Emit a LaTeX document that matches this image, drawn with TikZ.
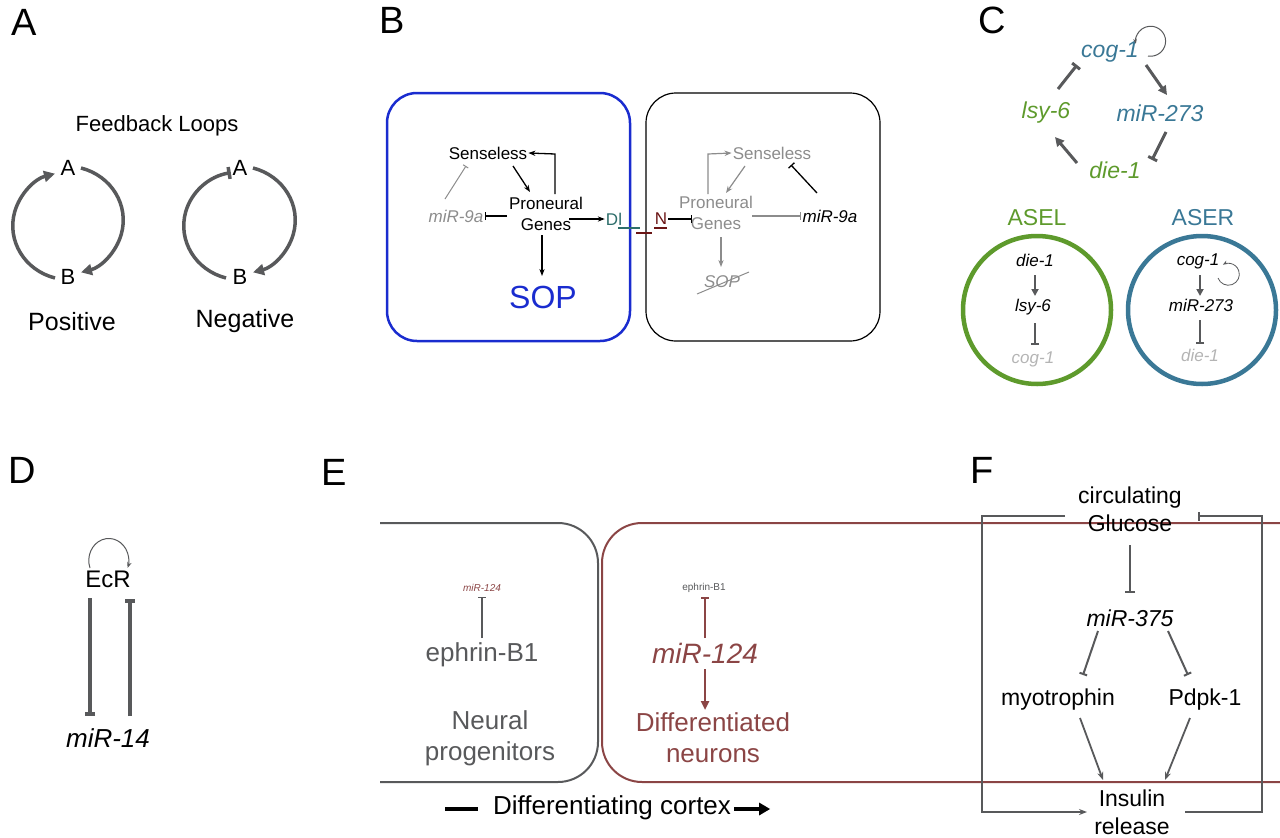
\documentclass[tikz,border=0pt]{standalone}
\usepackage{fontspec}
\setmainfont{Liberation Sans}
\usetikzlibrary{arrows.meta}
\definecolor{dg}{HTML}{58595B}
\definecolor{bblue}{HTML}{1A2CCF}
\definecolor{bgray}{HTML}{8C8C8C}
\definecolor{teal2}{HTML}{2E6E6B}
\definecolor{dred}{HTML}{6B1515}
\definecolor{cgreen}{HTML}{5E9A2C}
\definecolor{cblue}{HTML}{3A7896}
\definecolor{lgray}{HTML}{B4B4B4}
\definecolor{ered}{HTML}{8B4545}
\begin{document}
\begin{tikzpicture}[x=1pt,y=-1pt,
  f/.style={font=\fontsize{#1}{\dimexpr #1pt*6/5\relax}\selectfont},
  fi/.style={font=\fontsize{#1}{\dimexpr #1pt*6/5\relax}\selectfont\itshape},
  lab/.style={f=38,anchor=center},
  thick2/.style={line width=3.5pt,dg},
  inner sep=1pt]
\useasboundingbox (0,0) rectangle (1280,838);
% Panel letters
\node[lab] (LA) at (24,22) {A};
\node[lab] (LB) at (392,20) {B};
\node[lab] (LC) at (992,20) {C};
\node[lab] (LD) at (22,470) {D};
\node[lab] (LE) at (334,472) {E};
\node[lab] (LF) at (982,470) {F};
% ---- A
\node[f=22] (fl) at (157,126) {Feedback Loops};
\node[f=22] (pa) at (68,168) {A};
\node[f=22] (pb) at (68,277) {B};
\node[f=22] (na) at (240,168) {A};
\node[f=22] (nb) at (240,277) {B};
\node[f=25] (pos) at (72,322) {Positive};
\node[f=25] (neg) at (245,321) {Negative};
\draw[thick2,-{Triangle[length=11pt,width=11pt]}] (55,278) arc[start angle=105,end angle=255,x radius=57,y radius=54] ;
\draw[thick2,-{Triangle[length=11pt,width=11pt]}] (81,168) arc[start angle=-75,end angle=75,x radius=57,y radius=54];
\draw[thick2,-{Bar[width=12pt]}] (226,278) arc[start angle=105,end angle=260,x radius=57,y radius=54];
\draw[thick2,-{Triangle[length=11pt,width=11pt]}] (253,168) arc[start angle=-75,end angle=75,x radius=57,y radius=54];
% ---- B
\draw[bblue,line width=2.5pt,rounded corners=30pt] (387,93) rectangle (630,341);
\draw[black,line width=1.2pt,rounded corners=30pt] (646,93) rectangle (880,341);
\node[f=17] (sen) at (488,153) {Senseless};
\node[f=17,align=center] (pro) at (546,214) {Proneural\\Genes};
\node[fi=17,bgray] (m9) at (456,216) {miR-9a};
\node[f=32,bblue] (sop) at (543,297) {SOP};
\node[f=17,teal2] (dl) at (614,219) {Dl};
\node[f=17,dred] (nn) at (661,219) {N};
\draw[line width=1.3pt,-{Stealth[length=7pt]}] (555,194) -- (555,154) -- (sen.east);
\draw[line width=1.3pt,-{Stealth[length=7pt]}] (513,166) -- (530,192);
\draw[bgray,line width=1pt,-{Bar[width=6pt]}] (445,199) -- (466,166);
\draw[line width=1.3pt,-{Bar[width=8pt]}] (507,216) -- (m9.east);
\draw[line width=1.3pt,-{Stealth[length=7pt]}] (569,219) -- (dl.west);
\draw[line width=1.3pt,-{Stealth[length=7pt]}] (542,235) -- (542,276);
\draw[teal2,line width=2pt] (618,228) -- (640,228);
\draw[dred,line width=2pt] (636,233) -- (652,233) (654,228) -- (667,228);
\node[f=17,bgray,align=center] (pro2) at (716,213) {Proneural\\Genes};
\node[f=17,bgray] (sen2) at (772,153) {Senseless};
\node[fi=17] (m92) at (830,216) {miR-9a};
\node[fi=17,bgray] (sop2) at (722,282) {SOP};
\draw[line width=1.3pt,-{Bar[width=8pt]}] (nn.east) -- (692,219);
\draw[bgray,line width=1.2pt,-{Stealth[length=7pt]}] (708,194) -- (708,154) -- (sen2.west);
\draw[bgray,line width=1.2pt,-{Stealth[length=7pt]}] (745,166) -- (726,193);
\draw[line width=1.3pt,-{Bar[width=8pt]}] (817,193) -- (791,165);
\draw[bgray,line width=1.2pt,-{Bar[width=8pt]}] (752,216) -- (m92.west);
\draw[bgray,line width=1.2pt,-{Stealth[length=7pt]}] (721,237) -- (721,267);
\draw[bgray,line width=1pt] (697,294) -- (749,272);
% ---- C
\node[fi=23,cblue] (cog) at (1110,52) {cog-1};
\node[fi=23,cblue] (mir) at (1160,113) {miR-273};
\node[fi=23,cgreen] (lsy) at (1046,113) {lsy-6};
\node[fi=23,cgreen] (die) at (1115,170) {die-1};
\draw[dg,line width=1pt,-{Stealth[length=5pt]}] (1148,56) arc[start angle=100,end angle=-190,radius=15];
\draw[dg,line width=3pt,-{Triangle[length=9pt,width=9pt]}] (1146,65) -- (1167,95);
\draw[dg,line width=3pt,-{Bar[width=10pt]}] (1166,132) -- (1152,160);
\draw[dg,line width=3pt,-{Triangle[length=9pt,width=9pt]}] (1077,163) -- (1055,137);
\draw[dg,line width=3pt,-{Bar[width=10pt]}] (1058,89) -- (1077,65);
\node[f=23,cgreen] (asel) at (1037,218) {ASEL};
\node[f=23,cblue] (aser) at (1203,218) {ASER};
\draw[cgreen,line width=4.5pt] (1037,310) circle (74);
\draw[cblue,line width=4.5pt] (1202,310) circle (74);
\node[fi=17] (d1) at (1035,260) {die-1};
\node[fi=17] (l1) at (1033,307) {lsy-6};
\node[fi=17,lgray] (c1) at (1033,359) {cog-1};
\draw[dg,line width=2pt,-{Triangle[length=7pt,width=7pt]}] (1035,275) -- (1035,296);
\draw[dg,line width=2pt,-{Bar[width=8pt]}] (1035,323) -- (1035,345);
\node[fi=17] (c2) at (1198,261) {cog-1};
\node[fi=17] (m2) at (1201,305) {miR-273};
\node[fi=17,lgray] (d2) at (1200,355) {die-1};
\draw[dg,line width=0.8pt,-{Stealth[length=5pt]}] (1218,278) arc[start angle=-200,end angle=-480,radius=11];
\draw[dg,line width=2pt,-{Triangle[length=7pt,width=7pt]}] (1200,275) -- (1200,296);
\draw[dg,line width=2pt,-{Bar[width=8pt]}] (1200,320) -- (1200,344);
% ---- D
\node[f=24] (ecr) at (108,579) {EcR};
\node[fi=26] (m14) at (108,738) {miR-14};
\draw[dg,line width=1pt,-{Stealth[length=6pt]}] (90,568) arc[start angle=-200,end angle=20,x radius=20,y radius=22];
\draw[dg,line width=4pt,-{Bar[width=10pt,length=3pt]}] (90,598) -- (90,716);
\draw[dg,line width=4pt,-{Bar[width=10pt,length=3pt]}] (130,716) -- (130,599);
% ---- E
\draw[dg,line width=2pt] (380,523) -- (558,523) arc[start angle=-90,end angle=0,radius=40] -- (598,742) arc[start angle=0,end angle=90,radius=40] -- (380,782);
\draw[ered,line width=2pt] (1280,523) -- (642,523) arc[start angle=-90,end angle=-180,radius=40] -- (602,742) arc[start angle=180,end angle=90,radius=40] -- (1280,782);
\node[fi=10,ered] (em1) at (482,588) {miR-124};
\node[f=26,dg] (eb1) at (482,655) {ephrin-B1};
\node[f=26,dg,align=center] (np) at (490,738) {Neural\\progenitors};
\draw[dg,line width=1.2pt,-{Bar[width=8pt]}] (482,638) -- (482,597);
\node[f=10,dg] (eb2) at (704,588) {ephrin-B1};
\node[fi=28,ered] (em2) at (705,653) {miR-124};
\node[f=26,ered,align=center] (dn) at (713,738) {Differentiated\\neurons};
\draw[ered,line width=1.5pt,-{Bar[width=8pt]}] (705,638) -- (705,597);
\draw[ered,line width=2.5pt,-{Triangle[length=9pt,width=8pt]}] (705,669) -- (705,710);
\node[f=26] (dc) at (612,808) {Differentiating cortex};
\draw[line width=4pt] (445,809) -- (478,809);
\draw[line width=4pt,-{Triangle[length=11pt,width=12pt]}] (dc.east) ++(2,1) -- +(36,0);
% ---- F
\node[f=23,align=center] (glu) at (1130,509) {circulating\\Glucose};
\node[fi=23] (m375) at (1130,618) {miR-375};
\node[f=23] (myo) at (1058,700) {myotrophin};
\node[f=23] (pdp) at (1205,700) {Pdpk-1};
\node[f=23,align=center] (ins) at (1132,812) {Insulin\\release};
\draw[dg,line width=2.5pt,-{Bar[width=10pt]}] (1130,545) -- (1130,593);
\draw[dg,line width=2pt,-{Bar[width=8pt]}] (1098,631) -- (1083,675);
\draw[dg,line width=2pt,-{Bar[width=8pt]}] (1168,631) -- (1188,675);
\draw[dg,line width=1.8pt,-{Stealth[length=8pt]}] (1080,718) -- (1103,780);
\draw[dg,line width=1.8pt,-{Stealth[length=8pt]}] (1190,718) -- (1165,780);
\draw[dg,line width=2pt,-{Stealth[length=8pt]}] (1065,516) -- (982,516) -- (982,812) -- (1087,812);
\draw[dg,line width=2pt,-{Bar[width=9pt]}] (1185,812) -- (1262,812) -- (1262,516) -- (1198,516);
\end{tikzpicture}
\end{document}
